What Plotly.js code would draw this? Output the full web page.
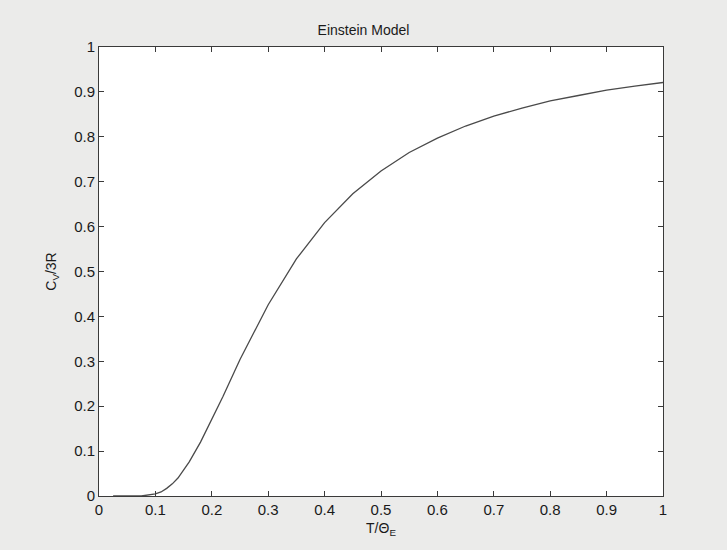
<!DOCTYPE html>
<html><head><meta charset="utf-8">
<script src="https://cdn.plot.ly/plotly-3.0.1.min.js"></script>
<style>html,body{margin:0;padding:0;background:#ebebea;}</style>
</head><body>
<div id="chart" style="width:727px;height:550px;"></div>
<script>
const tRatio = [0.025, 0.05, 0.075, 0.1, 0.11, 0.12, 0.13, 0.14, 0.15, 0.16, 0.18, 0.2, 0.22, 0.25, 0.3, 0.35, 0.4, 0.45, 0.5, 0.55, 0.6, 0.65, 0.7, 0.75, 0.8, 0.85, 0.9, 0.95, 1.0];
const cvRatio = [0.0, 0.0, 0.0, 0.0045, 0.009, 0.017, 0.027, 0.040, 0.057, 0.076, 0.120, 0.171, 0.222, 0.304, 0.426, 0.528, 0.609, 0.673, 0.724, 0.765, 0.797, 0.824, 0.846, 0.864, 0.880, 0.892, 0.904, 0.913, 0.921];
const xTicks = [0, 0.1, 0.2, 0.3, 0.4, 0.5, 0.6, 0.7, 0.8, 0.9, 1];
const yTicks = [0, 0.1, 0.2, 0.3, 0.4, 0.5, 0.6, 0.7, 0.8, 0.9, 1];
const tickText = ['0', '0.1', '0.2', '0.3', '0.4', '0.5', '0.6', '0.7', '0.8', '0.9', '1'];

const trace = {x: tRatio, y: cvRatio, type: 'scatter', mode: 'lines', line: {color: '#4a4a4a', width: 1.3}, hoverinfo: 'none'};
const axisBase = {
  showgrid: false, zeroline: false, showline: true, mirror: 'ticks', linecolor: '#3a3a3a', linewidth: 1,
  ticks: 'inside', ticklen: 5, tickcolor: '#3a3a3a', tickfont: {size: 15, color: '#1a1a1a'}
};
const layout = {
  width: 727, height: 550,
  margin: {l: 99, r: 64, t: 47, b: 54},
  paper_bgcolor: '#ebebea', plot_bgcolor: '#ffffff',
  font: {family: 'Liberation Sans, Arial, sans-serif', color: '#1a1a1a'},
  title: {text: 'Einstein Model', font: {size: 14, color: '#1a1a1a'}, x: 0.5, xanchor: 'center', y: 0.945, yanchor: 'middle'},
  showlegend: false,
  xaxis: Object.assign({}, axisBase, {range: [0, 1], tickvals: xTicks, ticktext: tickText,
    title: {text: 'T/Θ<sub>E</sub>', font: {size: 14, color: '#1a1a1a'}, standoff: 6}}),
  yaxis: Object.assign({}, axisBase, {range: [0, 1], tickvals: yTicks, ticktext: tickText,
    title: {text: 'C<sub>V</sub>/3R', font: {size: 14, color: '#1a1a1a'}, standoff: 14}})
};
Plotly.newPlot('chart', [trace], layout, {displayModeBar: false, staticPlot: true});
</script>
</body></html>
